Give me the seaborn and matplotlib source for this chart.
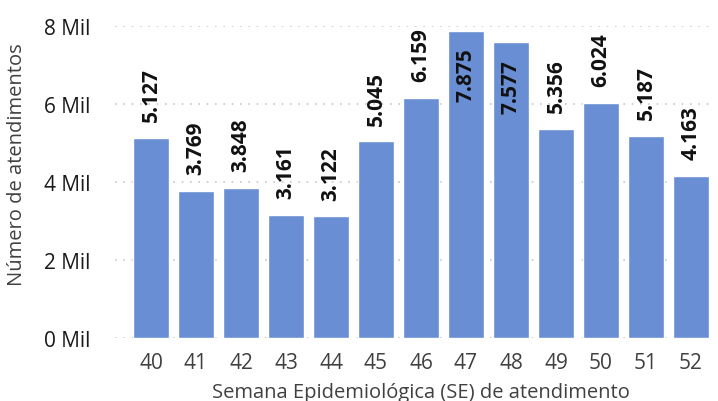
import matplotlib
matplotlib.use("Agg")
import matplotlib.pyplot as plt
import seaborn as sns
import pandas as pd
from matplotlib.ticker import FuncFormatter

semanas = ["40", "41", "42", "43", "44", "45", "46", "47", "48", "49", "50", "51", "52"]
atendimentos = [5127, 3769, 3848, 3161, 3122, 5045, 6159, 7875, 7577, 5356, 6024, 5187, 4163]
rotulos = ["5.127", "3.769", "3.848", "3.161", "3.122", "5.045", "6.159", "7.875", "7.577",
           "5.356", "6.024", "5.187", "4.163"]

sns.set_theme(style="white")
plt.rcParams['font.family'] = ['Open Sans', 'DejaVu Sans']

df = pd.DataFrame({"SE": semanas, "N": atendimentos})

fig = plt.figure(figsize=(7.18, 4.02), dpi=100)
ax = fig.add_axes([115/718, 1-339/402, (713.5-115)/718, 312/402])

sns.barplot(data=df, x="SE", y="N", color="#698ed4", saturation=1, width=0.8, ax=ax, zorder=3)

ax.set_ylim(0, 8000)
ax.set_xlim(-0.8, 12.5)
ax.set_yticks([0, 2000, 4000, 6000, 8000])
ax.yaxis.set_major_formatter(FuncFormatter(lambda v, p: f"{int(v/1000)} Mil"))
ax.grid(axis="y", color="#c8c8c8", linestyle=(0, (1, 4)), linewidth=1.2, zorder=0)
for s in ax.spines.values():
    s.set_visible(False)
ax.tick_params(axis="y", length=0, pad=18, labelsize=15, labelcolor="#1a1a1a")
ax.tick_params(axis="x", length=0, pad=10, labelsize=15, labelcolor="#404040")

ax.set_xlabel("Semana Epidemiológica (SE) de atendimento", fontsize=14.5, color="#404040")
ax.set_ylabel("Número de atendimentos", fontsize=14.5, color="#404040")
ax.xaxis.set_label_coords(0.512, -0.14)
ax.yaxis.set_label_coords(-0.147, 0.56)

for i, (v, t) in enumerate(zip(atendimentos, rotulos)):
    if v > 7000:
        ax.annotate(t, (i, v), xytext=(0, -12), textcoords="offset points", rotation=90,
                    ha="center", va="top", fontsize=15, fontweight="bold", color="#111111", zorder=5)
    else:
        ax.annotate(t, (i, v), xytext=(0, 12), textcoords="offset points", rotation=90,
                    ha="center", va="bottom", fontsize=15, fontweight="bold", color="#111111", zorder=5)

fig.savefig("out.png", dpi=100)
